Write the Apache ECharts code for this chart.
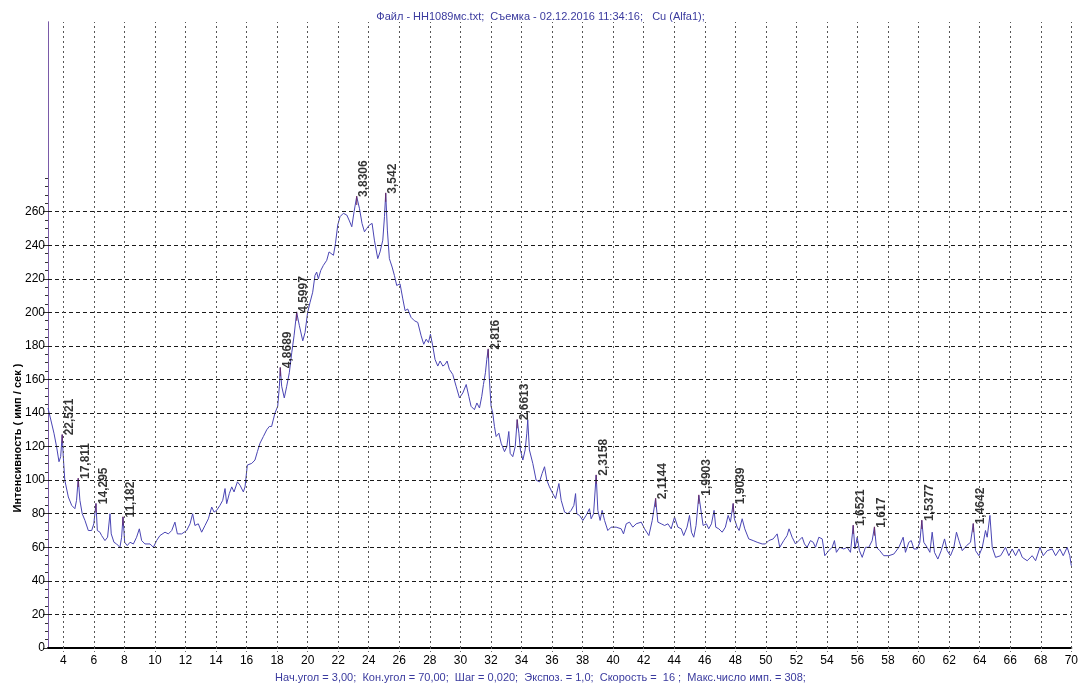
<!DOCTYPE html>
<html><head><meta charset="utf-8">
<script src="https://cdn.jsdelivr.net/npm/echarts/dist/echarts.min.js"></script>
<style>html,body{margin:0;padding:0;background:#fff}#c{width:1081px;height:684px}</style>
</head><body><div id="c"></div>
<script>
const twoTheta = [3.0,3.13,3.39,3.56,3.72,3.83,3.93,4.0,4.1,4.33,4.55,4.76,4.87,4.98,5.09,5.24,5.42,5.64,5.86,6.0,6.14,6.23,6.4,6.51,6.73,6.9,7.06,7.14,7.32,7.49,7.71,7.82,7.91,8.02,8.19,8.37,8.59,8.8,8.98,9.13,9.35,9.68,9.9,10.11,10.33,10.66,10.88,11.1,11.31,11.47,11.75,12.08,12.3,12.47,12.62,12.84,13.06,13.28,13.5,13.72,13.87,14.04,14.26,14.44,14.59,14.7,14.87,15.03,15.18,15.4,15.57,15.79,15.9,16.05,16.34,16.55,16.71,16.88,17.1,17.32,17.49,17.64,17.86,18.04,18.15,18.21,18.3,18.47,18.63,18.8,18.96,19.11,19.28,19.46,19.68,19.83,20.0,20.16,20.33,20.48,20.59,20.7,20.86,21.03,21.25,21.4,21.53,21.69,21.82,21.97,22.12,22.34,22.56,22.71,22.89,23.04,23.21,23.39,23.56,23.72,23.87,24.04,24.22,24.37,24.59,24.74,24.92,25.03,25.11,25.22,25.35,25.53,25.68,25.83,26.05,26.23,26.38,26.55,26.77,26.99,27.21,27.43,27.6,27.76,27.91,28.04,28.19,28.34,28.52,28.67,28.85,29.0,29.13,29.28,29.5,29.72,29.94,30.16,30.38,30.55,30.7,30.92,31.08,31.25,31.4,31.51,31.64,31.73,31.82,31.9,32.01,32.12,32.23,32.34,32.52,32.67,32.89,33.04,33.17,33.26,33.43,33.59,33.72,33.83,33.93,34.09,34.24,34.35,34.41,34.52,34.74,34.96,35.18,35.35,35.51,35.66,35.83,36.05,36.23,36.45,36.6,36.82,37.03,37.25,37.43,37.54,37.62,37.8,38.02,38.23,38.45,38.56,38.72,38.89,39.0,39.15,39.28,39.44,39.65,39.87,40.2,40.53,40.68,40.86,41.07,41.29,41.51,41.84,42.06,42.34,42.56,42.78,42.93,43.15,43.37,43.59,43.8,44.02,44.24,44.46,44.62,44.84,45.0,45.13,45.28,45.43,45.61,45.72,45.89,46.11,46.26,46.44,46.61,46.72,46.92,47.14,47.35,47.53,47.68,47.86,47.94,48.12,48.25,48.45,48.62,48.88,49.17,49.43,49.76,49.97,50.19,50.48,50.74,50.91,51.17,51.39,51.52,51.72,51.94,52.16,52.38,52.53,52.7,52.92,53.1,53.25,53.47,53.69,53.86,54.12,54.34,54.49,54.62,54.84,55.1,55.32,55.54,55.72,55.83,55.98,56.13,56.31,56.52,56.74,56.96,57.11,57.24,57.46,57.72,58.05,58.38,58.71,58.99,59.14,59.36,59.52,59.69,59.91,60.08,60.21,60.34,60.56,60.74,60.89,61.04,61.26,61.48,61.7,61.87,62.09,62.31,62.48,62.64,62.86,63.14,63.4,63.58,63.73,63.95,64.17,64.38,64.49,64.67,64.82,65.04,65.37,65.69,65.91,66.13,66.35,66.57,66.79,67.11,67.44,67.66,67.95,68.16,68.42,68.75,68.97,69.25,69.47,69.73,69.9,70.0];
const intensity = [143,142,128,120,111,114,127,114,100,90,85,83,88,101,88,80,76,70,70,74,86,70,69,67,64,66,80,68,63,62,60,66,78,63,61,63,62,66,71,64,62,62,60,64,67,69,68,70,75,68,68,70,74,80,73,74,69,73,77,84,81,82,85,88,95,86,92,96,93,99,97,93,96,109,110,112,117,122,126,130,132,132,140,144,156,167,156,149,156,164,176,186,200,192,183,188,200,206,212,222,224,220,225,228,231,236,235,234,241,252,257,259,258,255,251,260,269,262,253,248,250,252,253,243,232,236,243,257,271,249,232,227,222,216,217,208,201,202,197,195,194,186,181,184,182,187,180,172,168,171,168,169,171,166,163,156,149,152,157,150,144,142,146,143,150,157,164,172,178,160,144,140,132,126,128,122,117,120,129,116,114,120,136,128,118,112,118,128,136,118,110,100,99,104,108,100,96,92,89,98,88,81,80,82,85,92,80,79,76,79,83,77,80,103,82,76,82,76,70,72,72,71,68,74,75,72,74,75,71,67,76,89,75,74,73,74,71,78,72,71,67,72,79,69,66,73,91,84,73,74,71,74,82,72,71,69,72,79,75,86,77,72,70,77,71,65,64,63,62,62,64,65,68,60,64,67,71,66,62,64,66,62,60,64,63,60,66,65,55,58,60,64,57,60,59,60,57,73,59,66,58,54,60,60,64,72,60,58,55,55,56,60,66,57,63,64,59,59,63,76,63,60,57,69,57,53,58,65,58,55,60,69,64,58,61,63,74,58,55,60,70,66,79,60,54,55,60,55,59,55,59,54,52,55,52,60,55,58,59,55,59,55,60,55,49];

const peakAngle = [3.93,4.98,6.14,7.91,18.21,19.28,23.21,25.11,31.82,33.72,38.89,42.78,45.61,47.86,55.72,57.11,60.21,63.58];
const peakIntensity = [127,101,86,78,167,200,269,271,178,136,103,89,91,86,73,72,76,74];
const peakLabel = ['22,521','17,811','14,295','11,182','4,8689','4,5997','3,8306','3,542','2,816','2,6613','2,3158','2,1144','1,9903','1,9039','1,6521','1,617','1,5377','1,4642'];

const xTickLabels = [4,6,8,10,12,14,16,18,20,22,24,26,28,30,32,34,36,38,40,42,44,46,48,50,52,54,56,58,60,62,64,66,68,70];
const yTickLabels = [0,20,40,60,80,100,120,140,160,180,200,220,240,260];
const yMinorTicks = [0,5,10,15,20,25,30,35,40,45,50,55,60,65,70,75,80,85,90,95,100,105,110,115,120,125,130,135,140,145,150,155,160,165,170,175,180,185,190,195,200,205,210,215,220,225,230,235,240,245,250,255,260,265,270,275,280];

const titleText = 'Файл - НН1089мс.txt;  Съемка - 02.12.2016 11:34:16;   Cu (Alfa1);';
const footerText = 'Нач.угол = 3,00;  Кон.угол = 70,00;  Шаг = 0,020;  Экспоз. = 1,0;  Скорость =  16 ;  Макс.число имп. = 308;';
const yName = 'Интенсивность ( имп / сек )';

const FONT = 'Liberation Sans';
const chart = echarts.init(document.getElementById('c'), null, {renderer: 'canvas'});
const curve = twoTheta.map((x, i) => [x, intensity[i]]);
const peaks = peakAngle.map((x, i) => ({value: [x, peakIntensity[i]], name: peakLabel[i]}));

const gridLines = [];
yTickLabels.slice(1).forEach(v => gridLines.push({yAxis: v, lineStyle: {color: '#1a1a1a', type: [4, 3], width: 1}}));
xTickLabels.forEach(v => gridLines.push({xAxis: v, lineStyle: {color: '#555', type: [2, 3], width: 1}}));

const option = {
  animation: false,
  backgroundColor: '#fff',
  title: [
    {text: titleText, left: 'center', top: 6, textStyle: {fontFamily: FONT, fontSize: 11, fontWeight: 'normal', color: '#3a3a9e'}},
    {text: footerText, left: 'center', top: 667, textStyle: {fontFamily: FONT, fontSize: 11, fontWeight: 'normal', color: '#3a3a9e'}}
  ],
  graphic: [{
    type: 'text', x: 18, y: 438, rotation: Math.PI / 2,
    style: {text: yName, font: 'bold 11px "Liberation Sans"', fill: '#000', align: 'center', verticalAlign: 'middle', textAlign: 'center', textVerticalAlign: 'middle'}
  }],
  grid: {left: 48, right: 9, top: 22, bottom: 36},
  xAxis: {
    type: 'value', min: 3, max: 70,
    axisLine: {show: true, onZero: false, lineStyle: {color: '#000', width: 2}},
    axisTick: {show: true, customValues: xTickLabels, length: 4, lineStyle: {color: '#666', type: [1, 2]}},
    axisLabel: {show: true, customValues: xTickLabels, fontFamily: FONT, fontSize: 12, color: '#000', margin: 7},
    splitLine: {show: false}
  },
  yAxis: [
    {
      type: 'value', min: 0, max: 373, position: 'left',
      axisLine: {show: true, lineStyle: {color: '#7a5aa8', width: 1}},
      axisTick: {show: true, customValues: yMinorTicks, length: 3, lineStyle: {color: '#333'}},
      axisLabel: {show: false},
      splitLine: {show: false}
    },
    {
      type: 'value', min: 0, max: 373, position: 'left', offset: 0,
      axisLine: {show: true, lineStyle: {color: '#7a5aa8', width: 1}},
      axisTick: {show: true, customValues: yTickLabels, length: 5, lineStyle: {color: '#333'}},
      axisLabel: {show: true, customValues: yTickLabels, fontFamily: FONT, fontSize: 12, color: '#000', margin: 3},
      splitLine: {show: false}
    }
  ],
  series: [
    {
      type: 'line', data: [], z: 1, silent: true,
      markLine: {silent: true, symbol: 'none', label: {show: false}, animation: false, data: gridLines}
    },
    {
      type: 'line', data: curve, z: 3, showSymbol: false, symbol: 'none',
      lineStyle: {color: '#4a45b4', width: 1}
    },
    {
      type: 'scatter', data: peaks, z: 4, symbol: 'rect', symbolSize: [1.2, 9], symbolOffset: [0, 4],
      itemStyle: {color: '#6b2457'},
      label: {
        show: true, formatter: p => p.name, position: [8, 1], rotate: 90,
        align: 'left', verticalAlign: 'middle',
        fontFamily: FONT, fontSize: 12, fontWeight: 'bold', color: '#000'
      }
    }
  ]
};
chart.setOption(option);
</script>
</body></html>
